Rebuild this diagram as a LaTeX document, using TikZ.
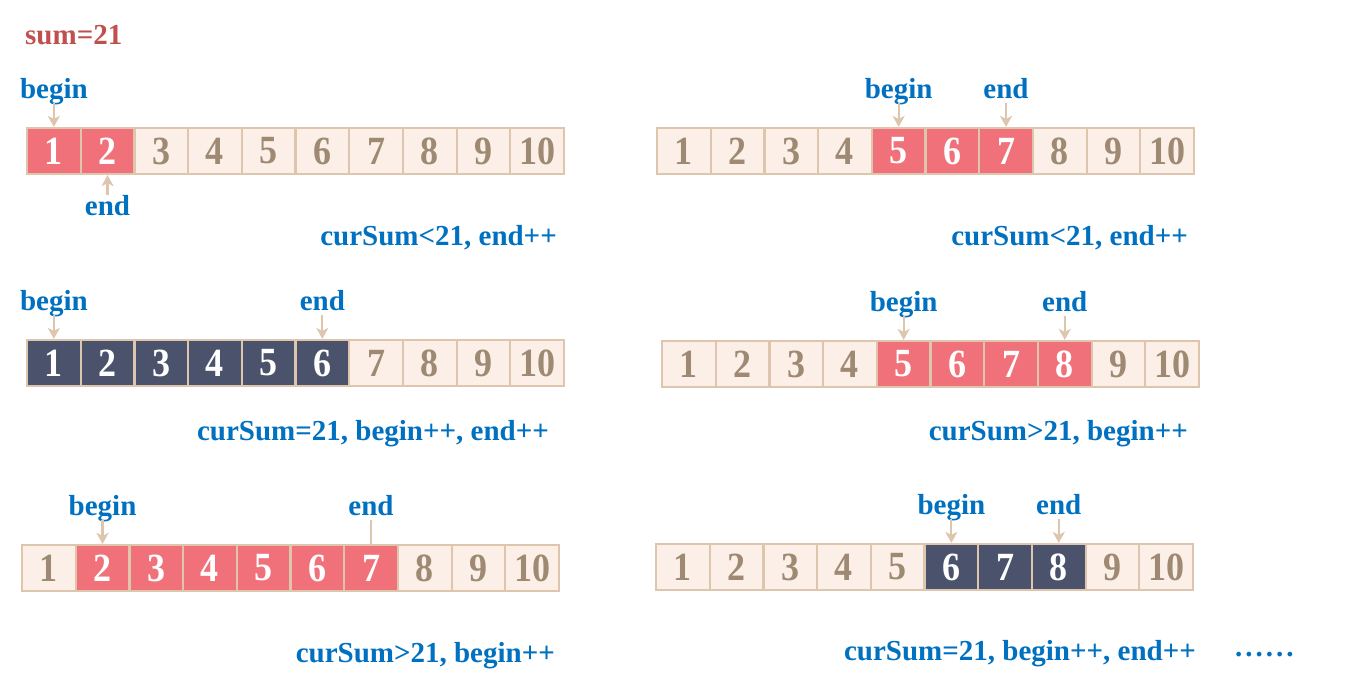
\documentclass[tikz,border=0pt]{standalone}
\usepackage{fontspec}
\setmainfont{Liberation Serif}
\newfontfamily\digitfont[FakeStretch=0.9]{Liberation Serif}
\usetikzlibrary{positioning,arrows.meta}
\definecolor{cellfill}{HTML}{FCEFE7}
\definecolor{cellline}{HTML}{DEC5AE}
\definecolor{digit}{HTML}{9E8A72}
\definecolor{hotfill}{HTML}{F07179}
\definecolor{darkfill}{HTML}{4B526B}
\definecolor{ptrblue}{HTML}{0070C0}
\definecolor{sumred}{HTML}{C0504D}
\newcommand{\cellrow}[6]{%
  \foreach \i in {1,...,10}{
    \pgfmathsetmacro\cx{#2+(\i-0.5)*53.7}
    \ifnum\i<#4 \def\st{cell}\else\ifnum\i>#5 \def\st{cell}\else\def\st{#6}\fi\fi
    \node[\st] (#1-\i) at (\cx,#3+23) {\i};
  }}
\begin{document}
\begin{tikzpicture}[x=1pt,y=-1pt,
  cell/.style={draw=cellline,line width=2.2pt,fill=cellfill,text=digit,minimum width=53.7pt,minimum height=46pt,inner sep=0pt,font=\digitfont\bfseries\fontsize{40}{40}\selectfont},
  hot/.style={cell,fill=hotfill,text=white},
  dark/.style={cell,fill=darkfill,text=white},
  lab/.style={text=ptrblue,inner sep=0pt,text height=20pt,text depth=4pt,font=\bfseries\fontsize{29}{29}\selectfont},
  act/.style={text=ptrblue,inner sep=0pt,font=\bfseries\fontsize{29}{29}\selectfont},
  ptr/.style={draw=cellline,line width=2.2pt,-{Stealth[length=11pt,width=12pt,inset=3pt]}},
  ptrline/.style={draw=cellline,line width=2.2pt}]
\useasboundingbox (0,0) rectangle (1361,683);
\node[act,text=sumred,anchor=base west] (sum) at (25,44) {sum=21};
\cellrow{r1}{27}{128}{1}{2}{hot}
\node[lab,above=24pt of r1-1] (b1) {begin};
\node[lab,below=20pt of r1-2] (e1) {end};
\draw[ptr] (b1) -- (r1-1);
\draw[ptr] (e1) -- (r1-2);
\node[act,anchor=base east] (t1) at (557,245) {curSum<21, end++};
\cellrow{r2}{657}{128}{5}{7}{hot}
\node[lab,above=24pt of r2-5] (b2) {begin};
\node[lab,above=24pt of r2-7] (e2) {end};
\draw[ptr] (b2) -- (r2-5);
\draw[ptr] (e2) -- (r2-7);
\node[act,anchor=base east] (t2) at (1188,245) {curSum<21, end++};
\cellrow{r3}{27}{340}{1}{6}{dark}
\node[lab,above=24pt of r3-1] (b3) {begin};
\node[lab,above=24pt of r3-6] (e3) {end};
\draw[ptr] (b3) -- (r3-1);
\draw[ptr] (e3) -- (r3-6);
\node[act,anchor=base east] (t3) at (549,440) {curSum=21, begin++, end++};
\cellrow{r4}{662}{341}{5}{8}{hot}
\node[lab,above=24pt of r4-5] (b4) {begin};
\node[lab,above=24pt of r4-8] (e4) {end};
\draw[ptr] (b4) -- (r4-5);
\draw[ptr] (e4) -- (r4-8);
\node[act,anchor=base east] (t4) at (1188,440) {curSum>21, begin++};
\cellrow{r5}{22}{545}{2}{7}{hot}
\node[lab,above=24pt of r5-2] (b5) {begin};
\node[lab,above=24pt of r5-7] (e5) {end};
\draw[ptr] (b5) -- (r5-2);
\draw[ptrline] (e5) -- (r5-7);
\node[act,anchor=base east] (t5) at (555,662) {curSum>21, begin++};
\cellrow{r6}{656}{544}{6}{8}{dark}
\node[lab,above=24pt of r6-6] (b6) {begin};
\node[lab,above=24pt of r6-8] (e6) {end};
\draw[ptr] (b6) -- (r6-6);
\draw[ptr] (e6) -- (r6-8);
\node[act,anchor=base east] (t6) at (1196,660) {curSum=21, begin++, end++};
\node[act,anchor=base west] (more) at (1235,656) {.\kern3pt.\kern3pt.\kern3pt.\kern3pt.\kern3pt.};
\end{tikzpicture}
\end{document}
